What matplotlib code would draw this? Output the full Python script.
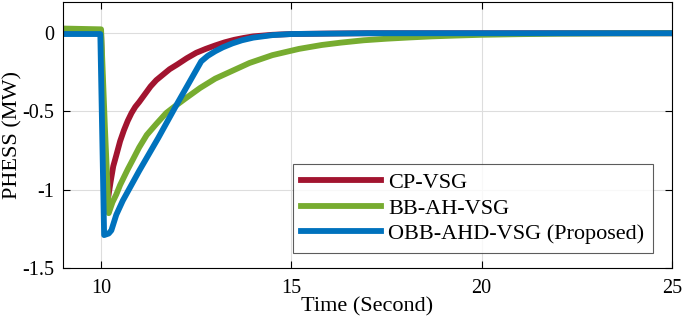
import matplotlib.pyplot as plt

# Data
t_cp = [9.0, 10.0, 10.1, 10.18, 10.25, 10.32, 10.4, 10.5, 10.6, 10.7, 10.8, 10.9, 11.0,
        11.15, 11.3, 11.45, 11.6, 11.8, 12.0, 12.25, 12.5, 12.75, 13.0, 13.25, 13.5,
        13.75, 14.0, 14.5, 15.0, 16.0, 17.0, 20.0, 25.0]
p_cp = [0.0, 0.0, -1.0, -1.06, -0.95, -0.85, -0.78, -0.69, -0.62, -0.56, -0.51, -0.47, -0.44,
        -0.39, -0.34, -0.30, -0.27, -0.23, -0.20, -0.16, -0.125, -0.10, -0.078, -0.058, -0.042,
        -0.03, -0.02, -0.01, -0.005, -0.002, 0.0, 0.0, 0.0]

t_bb = [9.0, 10.0, 10.1, 10.2, 10.3, 10.4, 10.5, 10.6, 10.7, 10.83, 11.0, 11.2, 11.45,
        11.71, 11.95, 12.2, 12.6, 13.0, 13.45, 13.9, 14.5, 15.2, 15.8, 16.3, 16.9, 17.5,
        18.1, 18.7, 19.3, 20.0, 21.0, 22.0, 23.5, 25.0]
p_bb = [0.03, 0.025, -0.6, -1.15, -1.08, -1.03, -0.97, -0.92, -0.87, -0.81, -0.73, -0.65, -0.58,
        -0.51, -0.465, -0.42, -0.35, -0.29, -0.24, -0.19, -0.14, -0.10, -0.075, -0.06, -0.045, -0.035,
        -0.027, -0.02, -0.015, -0.01, -0.006, -0.003, -0.001, 0.0]

t_obb = [9.0, 9.98, 10.08, 10.2, 10.27, 10.4, 10.57, 11.0, 11.5, 12.0, 12.63, 12.8, 13.0,
         13.2, 13.45, 13.7, 14.0, 14.5, 15.0, 17.0, 25.0]
p_obb = [-0.005, -0.005, -1.29, -1.28, -1.26, -1.16, -1.07, -0.88, -0.67, -0.45, -0.18, -0.145, -0.115,
         -0.09, -0.065, -0.045, -0.028, -0.012, -0.005, 0.0, 0.0]

labels = ['CP-VSG', 'BB-AH-VSG', 'OBB-AHD-VSG (Proposed)']
colors = ['#A2142F', '#77AC30', '#0072BD']

plt.rcParams['font.family'] = ['Liberation Serif', 'DejaVu Serif']
plt.rcParams['font.size'] = 14

fig = plt.figure(figsize=(6.85, 3.24), dpi=100)
ax = fig.add_axes([0.092, 0.173, 0.889, 0.821])

ax.plot(t_cp, p_cp, color=colors[0], lw=4.2, label=labels[0])
ax.plot(t_bb, p_bb, color=colors[1], lw=4.2, label=labels[1])
ax.plot(t_obb, p_obb, color=colors[2], lw=4.2, label=labels[2])

ax.set_xlim(9, 25)
ax.set_ylim(-1.5, 0.2)
ax.set_xticks([10, 15, 20, 25])
ax.set_yticks([-1.5, -1, -0.5, 0])
ax.set_yticklabels(['-1.5', '-1', '-0.5', '0'])
ax.grid(True, color='#dddddd', lw=0.8)
ax.tick_params(direction='in', top=True, right=True, length=5, labelsize=14.5)
ax.tick_params(axis='x', pad=8)
ax.tick_params(axis='y', pad=6.5)
for s in ax.spines.values():
    s.set_linewidth(0.8)

ax.set_xlabel('Time (Second)', fontsize=16, va='center')
ax.set_ylabel('PHESS (MW)', fontsize=16, va='center')
ax.xaxis.set_label_coords(0.5, -0.147)
ax.yaxis.set_label_coords(-0.082, 0.5)

leg = ax.legend(loc='lower right', bbox_to_anchor=(0.969, 0.056), borderaxespad=0,
                fontsize=16, frameon=True, fancybox=False, edgecolor='#333333',
                handlelength=3.6, handletextpad=0.3, borderpad=0.4, labelspacing=0.22)
leg.get_frame().set_linewidth(0.8)

plt.savefig('out.png', dpi=100)
plt.close()
